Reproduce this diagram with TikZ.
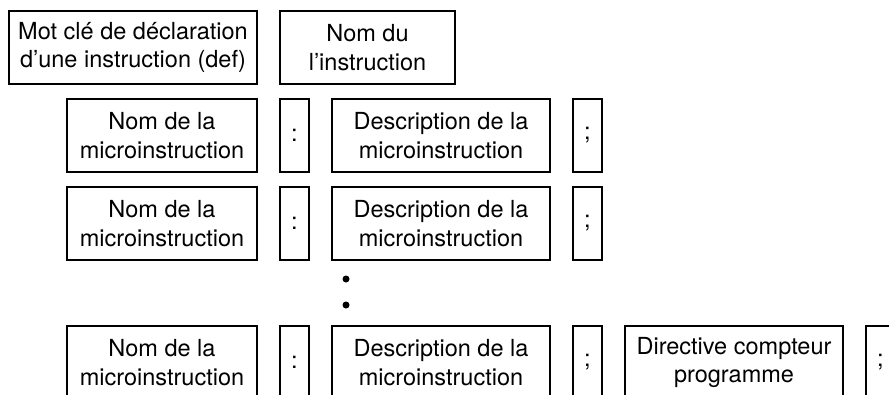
\documentclass[tikz,border=0pt]{standalone}
\usepackage{fontspec}
\setmainfont{TeX Gyre Heros}
\begin{document}
\begin{tikzpicture}[x=1pt,y=-1pt,
  box/.style={draw, line width=1.2pt, inner sep=0pt, align=center, minimum height=73pt, font=\fontsize{23.5}{28.5}\selectfont},
  dotnode/.style={circle, fill=black, inner sep=0pt, minimum size=7pt}]
\useasboundingbox (0,0) rectangle (889,394);
\clip (0,0) rectangle (889,394);
% row 1
\node[box, minimum width=248pt] (kw) at (133,47.5) {Mot clé de déclaration\\d’une instruction (def)};
\node[box, minimum width=175pt] (nm) at (367.5,47.5) {Nom du\\l’instruction};
% row 2
\node[box, minimum width=190pt] (n2) at (162,135.5) {Nom de la\\microinstruction};
\node[box, minimum width=29pt] (c2) at (294.5,135.5) {:};
\node[box, minimum width=218pt] (d2) at (441,135.5) {Description de la\\microinstruction};
\node[box, minimum width=29pt] (s2) at (587.5,135.5) {;};
% row 3
\node[box, minimum width=190pt] (n3) at (162,223.5) {Nom de la\\microinstruction};
\node[box, minimum width=29pt] (c3) at (294.5,223.5) {:};
\node[box, minimum width=218pt] (d3) at (441,223.5) {Description de la\\microinstruction};
\node[box, minimum width=29pt] (s3) at (587.5,223.5) {;};
% dots
\node[dotnode] (p1) at (346,279) {};
\node[dotnode] (p2) at (346,305) {};
% row 4
\node[box, minimum width=190pt] (n4) at (162,362.5) {Nom de la\\microinstruction};
\node[box, minimum width=29pt] (c4) at (294.5,362.5) {:};
\node[box, minimum width=218pt] (d4) at (441,362.5) {Description de la\\microinstruction};
\node[box, minimum width=29pt] (s4) at (587.5,362.5) {;};
\node[box, minimum width=218pt] (pc) at (734,362.5) {Directive compteur\\programme};
\node[box, minimum width=29pt] (s5) at (880.5,362.5) {;};
\end{tikzpicture}
\end{document}
